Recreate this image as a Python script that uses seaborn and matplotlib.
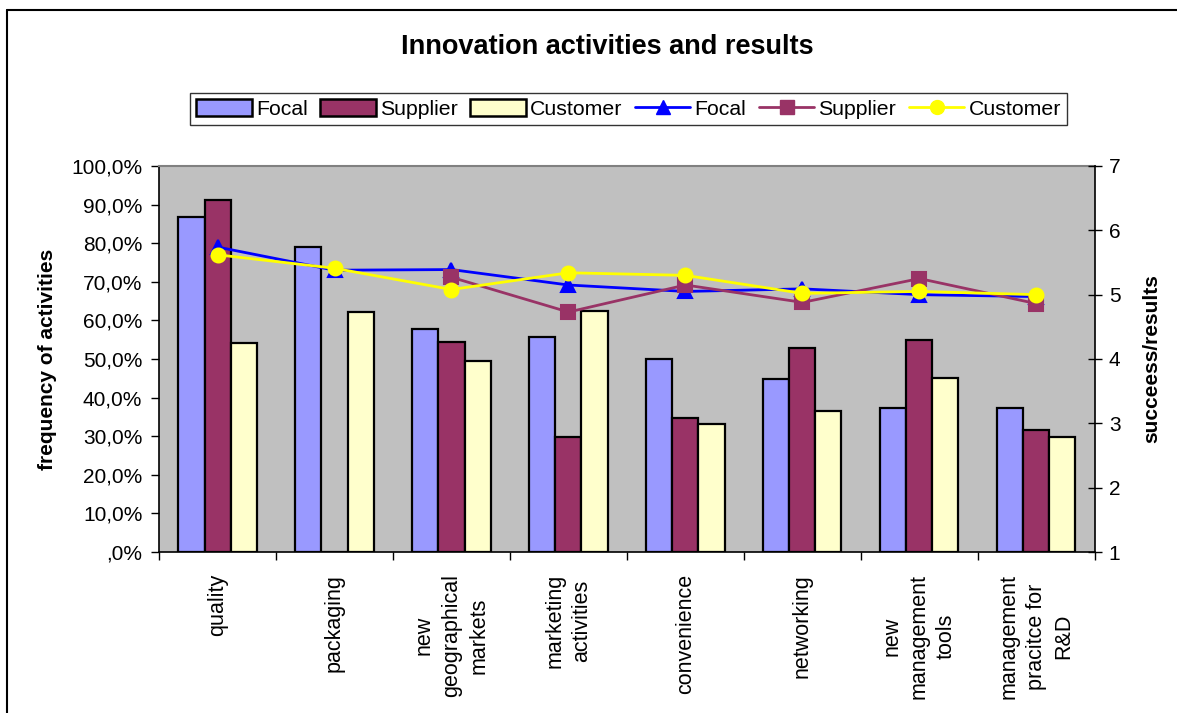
import numpy as np
import pandas as pd
import matplotlib
matplotlib.use("Agg")
import matplotlib.pyplot as plt
from matplotlib.lines import Line2D
from matplotlib.patches import Patch
from matplotlib.ticker import FixedLocator, FuncFormatter
import seaborn as sns

# Activity categories (x axis)
categories = [
    "quality",
    "packaging",
    "new\ngeographical\nmarkets",
    "marketing\nactivities",
    "convenience",
    "networking",
    "new\nmanagement\ntools",
    "management\npracitce for\nR&D",
]

# Frequency of activities, percent (bars, left axis)
focal_freq = [86.7, 78.9, 57.8, 55.6, 50.0, 44.9, 37.2, 37.2]
supplier_freq = [91.2, 0.0, 54.5, 29.9, 34.8, 52.8, 55.0, 31.6]
customer_freq = [54.1, 62.3, 49.5, 62.5, 33.1, 36.4, 45.1, 29.8]

# Success / results scores (lines, right axis)
focal_score = [5.74, 5.38, 5.39, 5.15, 5.05, 5.09, 5.00, 4.97]
supplier_score = [np.nan, np.nan, 5.27, 4.73, 5.15, 4.88, 5.25, 4.86]
customer_score = [5.62, 5.41, 5.08, 5.34, 5.30, 5.02, 5.05, 5.00]

series_names = ["Focal", "Supplier", "Customer"]
bar_colors = ["#9999FF", "#993366", "#FFFFCC"]
line_colors = ["#0000FF", "#993366", "#FFFF00"]
line_markers = ["^", "s", "o"]

left_ticks = [0, 10, 20, 30, 40, 50, 60, 70, 80, 90, 100]
right_ticks = [1, 2, 3, 4, 5, 6, 7]

freq = pd.DataFrame({
    "category": categories * 3,
    "series": np.repeat(series_names, len(categories)),
    "value": focal_freq + supplier_freq + customer_freq,
})
score = pd.DataFrame({
    "category": categories * 3,
    "series": np.repeat(series_names, len(categories)),
    "value": focal_score + supplier_score + customer_score,
})

sns.set_style("white")
plt.rcParams["font.family"] = ["Liberation Sans", "DejaVu Sans"]
plt.rcParams.update({
    "text.color": "black",
    "axes.labelcolor": "black",
    "xtick.color": "black",
    "ytick.color": "black",
})

fig = plt.figure(figsize=(11.77, 7.13), dpi=100)
ax = fig.add_axes([0.1351, 0.2258, 0.7952, 0.5414])
ax.set_facecolor("#C0C0C0")

sns.barplot(data=freq, x="category", y="value", hue="series",
            hue_order=series_names, palette=bar_colors, width=0.667,
            edgecolor="black", linewidth=1.6, saturation=1, errorbar=None,
            legend=False, ax=ax)

ax2 = ax.twinx()
sns.pointplot(data=score, x="category", y="value", hue="series",
              hue_order=series_names, palette=line_colors,
              markers=line_markers, linestyles="-", errorbar=None,
              markersize=10, linewidth=2.0, legend=False, ax=ax2)

for a in (ax, ax2):
    a.set_xlim(-0.5, len(categories) - 0.5)
    a.set_xlabel("")

ax.set_ylim(0, 100)
ax2.set_ylim(1, 7)
ax.yaxis.set_major_locator(FixedLocator(left_ticks))
ax.yaxis.set_major_formatter(FuncFormatter(
    lambda v, p: ("%.1f%%" % v).replace(".", ",").lstrip("0") if v == 0
    else ("%.1f%%" % v).replace(".", ",")))
ax2.yaxis.set_major_locator(FixedLocator(right_ticks))

ax.set_ylabel("frequency of activities", fontsize=15, fontweight="bold", labelpad=10)
ax2.set_ylabel("succeess/results", fontsize=15, fontweight="bold", labelpad=16)

ax.tick_params(axis="y", which="major", direction="out", length=6, width=1,
               color="black", labelsize=15, pad=6, left=True)
ax2.tick_params(axis="y", which="major", direction="inout", length=10, width=1,
                color="black", labelsize=15, pad=5, right=True)
ax.set_xticks(range(len(categories)))
ax.set_xticklabels(categories, rotation=90, va="top", ha="center",
                   multialignment="center", fontsize=15.5, linespacing=1.38)
ax.tick_params(axis="x", which="major", length=0, pad=16)
ax.set_xticks(np.arange(-0.5, len(categories)), minor=True)
ax.tick_params(axis="x", which="minor", direction="out", length=6, width=1,
               color="black", bottom=True)
ax2.tick_params(axis="x", which="both", length=0, labelbottom=False)

for s in ("left", "bottom"):
    ax.spines[s].set_color("black")
    ax.spines[s].set_linewidth(1.2)
ax.spines["top"].set_color("#808080")
ax.spines["top"].set_linewidth(1.5)
ax.spines["right"].set_visible(False)
for s in ("left", "bottom", "top"):
    ax2.spines[s].set_visible(False)
ax2.spines["right"].set_color("black")
ax2.spines["right"].set_linewidth(1.2)

fig.text(0.516, 0.934, "Innovation activities and results", ha="center",
         va="center", fontsize=19.5, fontweight="bold")

handles = [Patch(facecolor=c, edgecolor="black", linewidth=1.8) for c in bar_colors]
handles += [Line2D([], [], color=c, marker=m, markersize=10, linewidth=2.0)
            for c, m in zip(line_colors, line_markers)]
labels = series_names + series_names
leg = fig.legend(handles, labels, loc="center", bbox_to_anchor=(0.534, 0.847),
                 ncol=6, fontsize=15.3, frameon=True, fancybox=False,
                 edgecolor="black", handlelength=2.6, handleheight=0.8,
                 handletextpad=0.2, columnspacing=0.6, borderpad=0.28)
leg.get_frame().set_linewidth(1.0)

# chart-area border along the top and left edges
fig.add_artist(Line2D([0.006, 1.0], [0.986, 0.986], color="black", linewidth=1.5,
                      transform=fig.transFigure))
fig.add_artist(Line2D([0.006, 0.006], [0.0, 0.986], color="black", linewidth=1.5,
                      transform=fig.transFigure))

fig.savefig("out.png", dpi=100, facecolor="white")
